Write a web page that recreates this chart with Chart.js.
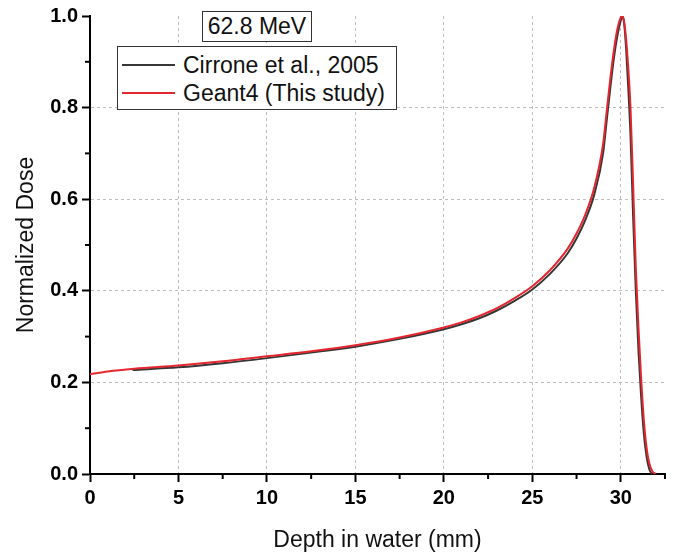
<!DOCTYPE html>
<html>
<head>
<meta charset="utf-8">
<script src="https://cdn.jsdelivr.net/npm/chart.js@4/dist/chart.umd.min.js"></script>
<style>
  body { margin: 0; background: #fff; }
  #wrap { position: relative; width: 683px; height: 554px; font-family: 'Liberation Sans', Arial, sans-serif; }
  #energy {
    position: absolute; left: 202px; top: 11px; width: 108px; height: 29px;
    border: 1px solid #333; background: #fff; font-size: 23px; line-height: 29px; text-align: center; color: #111;
  }
  #legend {
    position: absolute; left: 117px; top: 46px; width: 278px; height: 58px;
    padding-top: 4px; border: 1px solid #333; background: #fff; font-size: 23px; color: #111;
  }
  .item { display: flex; align-items: center; height: 28px; white-space: nowrap; }
  .swatch { width: 53px; height: 2px; margin: 0 8px 0 4px; flex: none; }
</style>
</head>
<body>
<div id="wrap">
  <canvas id="chart" width="683" height="554"></canvas>
  <div id="energy">62.8 MeV</div>
  <div id="legend"></div>
</div>
<script>
// Cirrone et al., 2005 (measured)
const depthRef = [2.4, 5, 7.5, 10, 12.5, 15, 17.5, 20, 21, 22, 23, 24, 25, 26, 27, 27.5, 28, 28.5, 29, 29.2, 29.4, 29.6, 29.8, 30, 30.1, 30.2, 30.3, 30.4, 30.55, 30.7, 30.85, 31, 31.15, 31.3, 31.45, 31.6, 31.75];
const doseRef = [0.227, 0.233, 0.242, 0.253, 0.265, 0.278, 0.295, 0.316, 0.327, 0.340, 0.357, 0.378, 0.403, 0.437, 0.482, 0.514, 0.555, 0.610, 0.700, 0.770, 0.840, 0.905, 0.955, 0.990, 1.0, 0.980, 0.930, 0.860, 0.740, 0.560, 0.400, 0.270, 0.170, 0.090, 0.040, 0.012, 0];

// Geant4 (this study)
const depthG4 = [0, 1, 2.5, 5, 7.5, 10, 12.5, 15, 17.5, 20, 21, 22, 23, 24, 25, 26, 27, 27.5, 28, 28.5, 29, 29.2, 29.4, 29.6, 29.8, 30, 30.1, 30.2, 30.3, 30.4, 30.55, 30.7, 30.85, 31, 31.15, 31.3, 31.45, 31.6, 31.8, 32];
const doseG4 = [0.218, 0.224, 0.230, 0.237, 0.246, 0.257, 0.268, 0.281, 0.298, 0.320, 0.331, 0.345, 0.362, 0.384, 0.410, 0.445, 0.492, 0.525, 0.567, 0.625, 0.720, 0.790, 0.860, 0.922, 0.970, 0.997, 1.0, 0.985, 0.950, 0.900, 0.800, 0.630, 0.450, 0.320, 0.210, 0.120, 0.060, 0.025, 0.005, 0];

const xMajor = [5, 10, 15, 20, 25, 30];
const yMajor = [0.2, 0.4, 0.6, 0.8];

const toPoints = (xs, ys) => xs.map((x, i) => ({ x: x, y: ys[i] }));

const isMajorX = (v) => v % 5 === 0;
const isMajorY = (v) => Math.round(v * 10) % 2 === 0;
const near = (list, v) => list.some((m) => Math.abs(m - v) < 1e-6);

const gridColor = (list) => (ctx) => (ctx.tick && near(list, ctx.tick.value) ? '#bdbdbd' : 'rgba(0,0,0,0)');

const minorTicks = {
  id: 'minorTicks',
  afterDraw(chart) {
    const { ctx, scales: { x, y } } = chart;
    ctx.save();
    ctx.strokeStyle = '#000';
    ctx.lineWidth = 2;
    x.ticks.forEach((t) => {
      if (!isMajorX(t.value)) {
        const px = x.getPixelForValue(t.value);
        ctx.beginPath();
        ctx.moveTo(px, x.top);
        ctx.lineTo(px, x.top + 5);
        ctx.stroke();
      }
    });
    y.ticks.forEach((t) => {
      if (!isMajorY(t.value)) {
        const py = y.getPixelForValue(t.value);
        ctx.beginPath();
        ctx.moveTo(y.right, py);
        ctx.lineTo(y.right - 5, py);
        ctx.stroke();
      }
    });
    ctx.restore();
  },
};

const font = "'Liberation Sans', Arial, sans-serif";

const datasets = [
  {
    label: 'Cirrone et al., 2005',
    data: toPoints(depthRef, doseRef),
    borderColor: '#363636',
    borderWidth: 2,
    order: 2,
  },
  {
    label: 'Geant4 (This study)',
    data: toPoints(depthG4, doseG4),
    borderColor: '#e3262f',
    borderWidth: 2,
    order: 1,
  },
];

const chart = new Chart(document.querySelector('#chart'), {
  type: 'line',
  data: { datasets: datasets },
  options: {
    responsive: false,
    animation: false,
    events: [],
    layout: { padding: { top: 14, right: 18, left: 0, bottom: 0 } },
    elements: {
      point: { radius: 0 },
      line: { cubicInterpolationMode: 'monotone', fill: false },
    },
    plugins: { legend: { display: false }, tooltip: { enabled: false } },
    scales: {
      x: {
        type: 'linear',
        min: 0,
        max: 32.5,
        afterFit: (scale) => { scale.height = 80; },
        ticks: {
          stepSize: 2.5,
          autoSkip: false,
          maxRotation: 0,
          padding: 4,
          color: '#000',
          font: { family: font, size: 20, weight: 'bold' },
          callback: (v) => (isMajorX(v) ? String(v) : ''),
        },
        grid: {
          color: gridColor(xMajor),
          lineWidth: 1,
          tickLength: 8,
          tickWidth: 2,
          tickColor: (ctx) => (ctx.tick && isMajorX(ctx.tick.value) ? '#000' : 'rgba(0,0,0,0)'),
        },
        border: { display: true, color: '#000', width: 2, dash: [3, 3] },
        title: {
          display: true,
          text: 'Depth in water (mm)',
          color: '#111',
          font: { family: font, size: 23 },
          padding: { top: 0, bottom: 0 },
        },
      },
      y: {
        min: 0,
        max: 1,
        afterFit: (scale) => { scale.width = 90; },
        ticks: {
          stepSize: 0.1,
          autoSkip: false,
          padding: 4,
          color: '#000',
          font: { family: font, size: 20, weight: 'bold' },
          callback: (v) => (isMajorY(v) ? v.toFixed(1) : ''),
        },
        grid: {
          color: gridColor(yMajor),
          lineWidth: 1,
          tickLength: 8,
          tickWidth: 2,
          tickColor: (ctx) => (ctx.tick && isMajorY(ctx.tick.value) ? '#000' : 'rgba(0,0,0,0)'),
        },
        border: { display: true, color: '#000', width: 2, dash: [3, 3] },
        title: {
          display: true,
          text: 'Normalized Dose',
          color: '#111',
          font: { family: font, size: 23 },
          padding: { top: 13, bottom: 0 },
        },
      },
    },
  },
  plugins: [minorTicks],
});

// legend box built from the datasets
const legendEl = document.querySelector('#legend');
datasets.forEach((ds) => {
  legendEl.innerHTML += `<div class="item"><span class="swatch" style="background:${ds.borderColor}"></span><span>${ds.label}</span></div>`;
});
</script>
</body>
</html>
